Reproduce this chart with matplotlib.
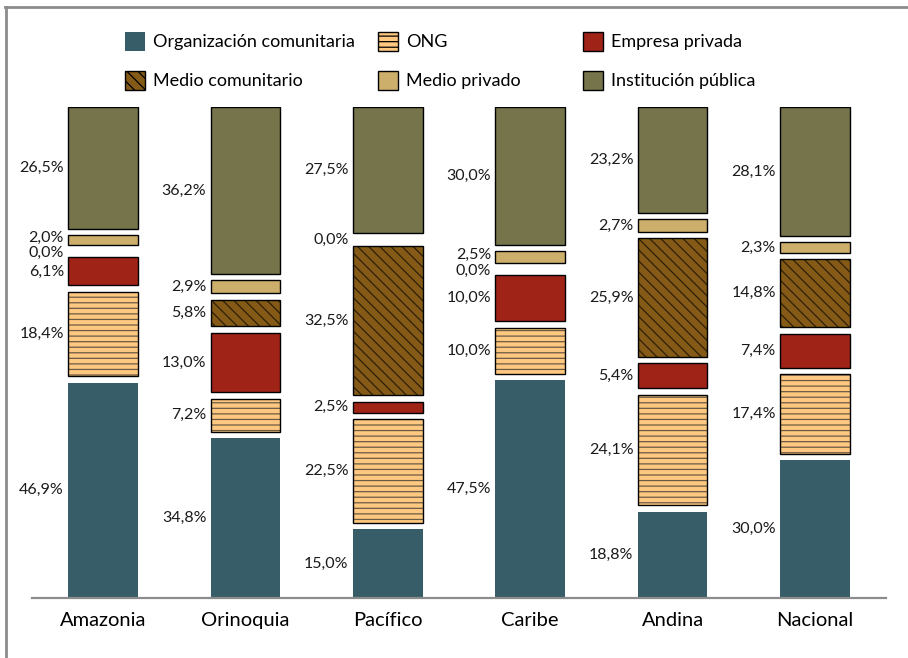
import numpy as np
import matplotlib
matplotlib.use('Agg')
import matplotlib.pyplot as plt
from matplotlib.patches import Patch
from matplotlib.lines import Line2D

plt.rcParams['font.family'] = ['Lato', 'DejaVu Sans']
plt.rcParams['hatch.linewidth'] = 0.9

regiones = ['Amazonia', 'Orinoquia', 'Pacífico', 'Caribe', 'Andina', 'Nacional']
series = ['Organización comunitaria', 'ONG', 'Empresa privada',
          'Medio comunitario', 'Medio privado', 'Institución pública']

org_comunitaria = [46.9, 34.8, 15.0, 47.5, 18.8, 30.0]
ong = [18.4, 7.2, 22.5, 10.0, 24.1, 17.4]
empresa_privada = [6.1, 13.0, 2.5, 10.0, 5.4, 7.4]
medio_comunitario = [0.0, 5.8, 32.5, 0.0, 25.9, 14.8]
medio_privado = [2.0, 2.9, 0.0, 2.5, 2.7, 2.3]
inst_publica = [26.5, 36.2, 27.5, 30.0, 23.2, 28.1]

valores = [org_comunitaria, ong, empresa_privada, medio_comunitario, medio_privado, inst_publica]

colores = ['#375e68', '#ffc880', '#a02318', '#855a16', '#cdaf6c', '#76744a']
bordes = ['none', 'black', 'black', 'black', 'black', 'black']
tramas = [None, '---', None, '\\\\\\', None, None]
color_trama = [None, '#6b5a44', None, '#2e1f08', None, None]

fig = plt.figure(figsize=(9.08, 6.58), dpi=100)
ax = fig.add_axes([0.0352, 0.0912, 0.9406, 0.7462])

x = np.arange(len(regiones))
w = 0.49
g = 1.3                      # white gap between stacked pieces
s = (100 - (len(valores) - 1) * g) / 100
cum = np.zeros(len(regiones))
etiquetas = [[] for _ in regiones]
for k, vals in enumerate(valores):
    vals = np.array(vals)
    for i, v in enumerate(vals):
        b = s * cum[i] + k * g
        h = s * v
        etiquetas[i].append([b + h / 2, v])
        if v <= 0:
            continue
        if tramas[k]:
            ax.bar(x[i], h, w, bottom=b, color=colores[k], edgecolor=color_trama[k],
                   linewidth=0, hatch=tramas[k])
            ax.bar(x[i], h, w, bottom=b, color='none', edgecolor=bordes[k], linewidth=1.0)
        else:
            ax.bar(x[i], h, w, bottom=b, color=colores[k],
                   edgecolor=bordes[k], linewidth=1.0)
    cum += vals

# spread labels that would overlap
d = 3.1
for i, labs in enumerate(etiquetas):
    ys = [l[0] for l in labs]
    for _ in range(50):
        for j in range(len(ys) - 1):
            if ys[j + 1] - ys[j] < d:
                m = (ys[j + 1] + ys[j]) / 2
                ys[j] = m - d / 2
                ys[j + 1] = m + d / 2
    for (yc, v), yy in zip(labs, ys):
        ax.text(x[i] - w / 2 - 0.03, yy, f'{v:.1f}%'.replace('.', ','),
                ha='right', va='center', fontsize=11.5, color='#1a1a1a')

ax.set_xlim(-0.5, len(regiones) - 0.5)
ax.set_ylim(0, 100)
ax.set_xticks(x)
ax.set_xticklabels(regiones, fontsize=14.5)
ax.tick_params(axis='x', length=0, pad=10)
ax.set_yticks([])
for sp in ['top', 'right', 'left']:
    ax.spines[sp].set_visible(False)
ax.spines['bottom'].set_color('#8c8c8c')
ax.spines['bottom'].set_linewidth(1.6)

# legend, three columns placed like the original
handles = [Patch(facecolor=colores[k], edgecolor=bordes[k], hatch=tramas[k], linewidth=1.0)
           for k in range(len(series))]
cols_x = [0.1377, 0.4163, 0.6421]
for c in range(3):
    fig.legend([handles[c], handles[c + 3]], [series[c], series[c + 3]],
               loc='upper left', bbox_to_anchor=(cols_x[c], 0.952),
               frameon=False, fontsize=13, handlelength=1.1, handleheight=1.25,
               handletextpad=0.45, labelspacing=1.1, borderpad=0, borderaxespad=0)

# outer frame (top and left edges visible)
fig.add_artist(Line2D([0.0055, 1.0], [0.9894, 0.9894], color='#8c8c8c', lw=2))
fig.add_artist(Line2D([0.0066, 0.0066], [0.0, 0.99], color='#8c8c8c', lw=2))

fig.savefig('out.png', dpi=100)
